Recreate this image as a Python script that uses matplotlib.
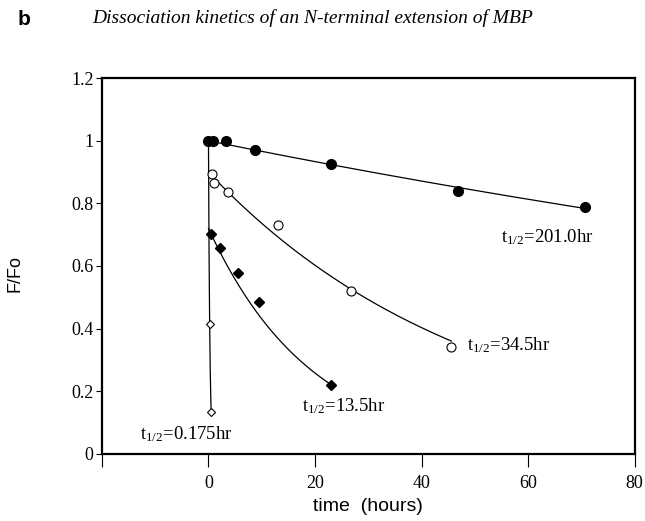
import numpy as np
import matplotlib
matplotlib.use('Agg')
import matplotlib.pyplot as plt
from matplotlib.ticker import FuncFormatter

plt.rcParams['mathtext.fontset'] = 'custom'
plt.rcParams['mathtext.rm'] = 'Liberation Serif'
plt.rcParams['mathtext.default'] = 'regular'

# t1/2 = 201.0 hr (filled circles)
t_201 = [0, 0.8, 3.2, 8.7, 23.0, 46.8, 70.6]
f_201 = [1.0, 1.0, 0.998, 0.972, 0.926, 0.840, 0.789]
# t1/2 = 34.5 hr (open circles)
t_345 = [0.6, 1.1, 3.6, 13.1, 26.8, 45.6]
f_345 = [0.895, 0.865, 0.835, 0.730, 0.520, 0.342]
# t1/2 = 13.5 hr (filled diamonds)
t_135 = [0.45, 2.1, 5.6, 9.4, 23.0]
f_135 = [0.703, 0.658, 0.578, 0.486, 0.220]
# t1/2 = 0.175 hr (open diamonds)
t_0175 = [0.25, 0.5]
f_0175 = [0.414, 0.132]

# fitted single exponentials: (half-life, amplitude, end time)
fits = [(201.0, 1.0, 70.6), (34.5, 0.9, 45.6), (13.5, 0.72, 23.0), (0.175, 1.0, 0.5)]

fig = plt.figure(figsize=(6.45, 5.21), dpi=100)
ax = fig.add_axes([0.158, 0.129, 0.826, 0.721])

for th, amp, tend in fits:
    tt = np.linspace(0, tend, 300)
    ax.plot(tt, amp * np.exp(-np.log(2) * tt / th), color='black', lw=0.9)

ax.plot(t_201, f_201, 'o', color='black', ms=7)
ax.plot(t_345, f_345, 'o', mfc='white', mec='black', mew=0.8, ms=6.5)
ax.plot(t_135, f_135, 'D', color='black', ms=4.8)
ax.plot(t_0175, f_0175, 'D', mfc='white', mec='black', mew=0.8, ms=4)

ax.set_xlim(-20, 80)
ax.set_ylim(0, 1.2)
ax.set_xticks([-20, 0, 20, 40, 60, 80])
ax.set_xticklabels(['', '0', '20', '40', '60', '80'])
ax.set_yticks([0, 0.2, 0.4, 0.6, 0.8, 1.0, 1.2])
ax.yaxis.set_major_formatter(FuncFormatter(lambda v, p: f'{v:g}'))
for lab in ax.get_xticklabels() + ax.get_yticklabels():
    lab.set_family('Liberation Serif')
    lab.set_fontsize(13)
ax.tick_params(axis='x', direction='out', length=9, width=0.8, pad=6)
ax.tick_params(axis='y', direction='out', length=4, width=0.8, pad=2)
for s in ax.spines.values():
    s.set_linewidth(1.6)

tkw = dict(family='Liberation Serif', fontsize=13.5, color='black')
ax.text(55.0, 0.675, 't$_{1/2}$=201.0hr', **tkw)
ax.text(48.5, 0.33, 't$_{1/2}$=34.5hr', **tkw)
ax.text(17.6, 0.137, 't$_{1/2}$=13.5hr', **tkw)
ax.text(-12.9, 0.045, 't$_{1/2}$=0.175hr', **tkw)

fig.text(0.024, 0.475, 'F/Fo', rotation=90, ha='center', va='center',
         family='Liberation Sans', fontsize=13)
fig.text(0.571, 0.027, 'time  (hours)', ha='center', va='center',
         family='Liberation Sans', fontsize=14)
fig.text(0.028, 0.963, 'b', ha='left', va='center', family='Liberation Sans',
         fontsize=15, fontweight='bold')
fig.text(0.485, 0.966, 'Dissociation kinetics of an N-terminal extension of MBP',
         ha='center', va='center', family='Liberation Serif', style='italic',
         fontsize=14)

fig.savefig('out.png', dpi=100)
